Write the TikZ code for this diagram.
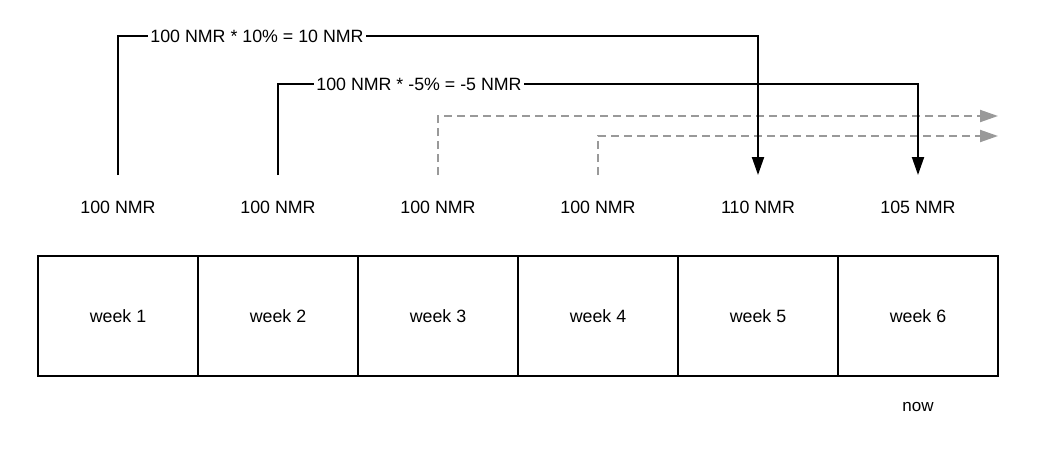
\documentclass[tikz,border=0pt]{standalone}
\usepackage{fontspec}
\setmainfont{Liberation Sans}
\usetikzlibrary{arrows.meta}
\definecolor{ghostgray}{HTML}{999999}
\begin{document}
\begin{tikzpicture}[x=1pt,y=-1pt,
  txt/.style={font=\fontsize{17.8}{21}\selectfont, inner sep=0pt},
  weekbox/.style={draw, line width=2pt, minimum width=160pt, minimum height=120pt, inner sep=0pt, font=\fontsize{17.8}{21}\selectfont},
  calc/.style={txt, fill=white, inner xsep=2pt, inner ysep=3pt},
  flow/.style={line width=2pt, -{Triangle[width=12pt,length=18pt]}},
  ghost/.style={ghostgray, line width=2pt, dash pattern=on 8pt off 5pt, -{Triangle[width=12pt,length=18pt]}}
]
\useasboundingbox (0,0) rectangle (1060,456);
% weeks
\foreach \i/\x in {1/118,2/278,3/438,4/598,5/758,6/918} {
  \node[weekbox] (w\i) at (\x,316) {week \i};
}
% values
\node[txt] (v1) at (118,207) {100 NMR};
\node[txt] (v2) at (278,207) {100 NMR};
\node[txt] (v3) at (438,207) {100 NMR};
\node[txt] (v4) at (598,207) {100 NMR};
\node[txt] (v5) at (758,207) {110 NMR};
\node[txt] (v6) at (918,207) {105 NMR};
% anchor points
\coordinate (s1) at (118,175);
\coordinate (s2) at (278,175);
\coordinate (s3) at (438,175);
\coordinate (s4) at (598,175);
\coordinate (e5) at (758,175);
\coordinate (e6) at (918,175);
\coordinate (k1) at (758,36);
\coordinate (k2) at (918,84);
\coordinate (g3) at (998,116);
\coordinate (g4) at (998,136);
% dashed future arrows
\draw[ghost] (s3) |- (g3);
\draw[ghost] (s4) |- (g4);
% solid arrows
\draw[flow] (s1) |- (k1) -- (e5);
\draw[flow] (s2) |- (k2) -- (e6);
\node[calc] (L1) at (257,36) {100 NMR * 10\% = 10 NMR};
\node[calc] (L2) at (419,84) {100 NMR * -5\% = -5 NMR};
% now
\node[txt, font=\fontsize{17}{20}\selectfont] (now) at (918,407) {now};
\end{tikzpicture}
\end{document}
